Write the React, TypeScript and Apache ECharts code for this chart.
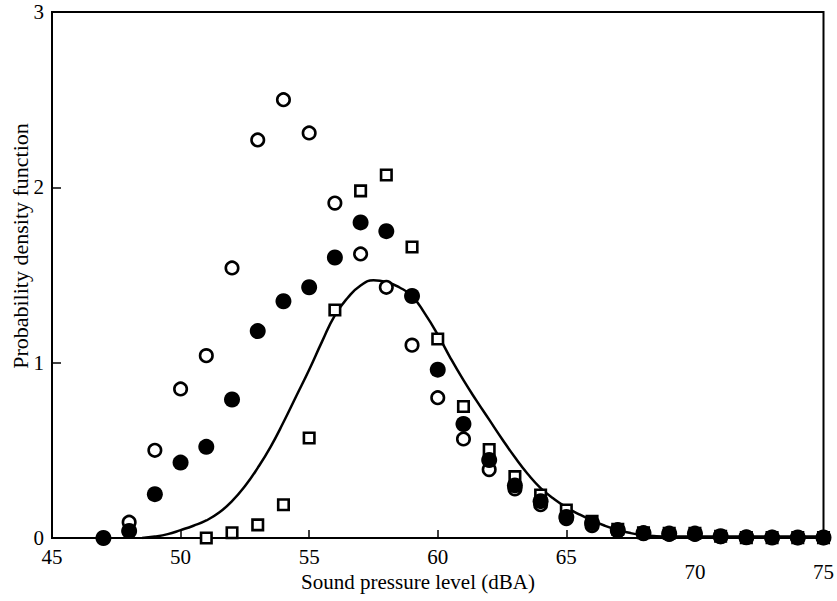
import React, { useEffect, useRef } from "react";
import * as echarts from "echarts";

// Sound pressure level (dBA)
const openX = [48, 49, 50, 51, 52, 53, 54, 55, 56, 57, 58, 59, 60, 61, 62, 63, 64, 65, 66, 67, 68, 69, 70, 71, 72, 73, 74, 75];
const openY = [0.09, 0.5, 0.85, 1.04, 1.54, 2.27, 2.5, 2.31, 1.91, 1.62, 1.43, 1.1, 0.8, 0.565, 0.39, 0.28, 0.19, 0.11, 0.07, 0.04, 0.025, 0.02, 0.02, 0.008, 0.003, 0.003, 0.002, 0.002];

const filledX = [47, 48, 49, 50, 51, 52, 53, 54, 55, 56, 57, 58, 59, 60, 61, 62, 63, 64, 65, 66, 67, 68, 69, 70, 71, 72, 73, 74, 75];
const filledY = [0, 0.04, 0.25, 0.43, 0.52, 0.79, 1.18, 1.35, 1.43, 1.6, 1.8, 1.75, 1.38, 0.96, 0.65, 0.445, 0.3, 0.21, 0.12, 0.085, 0.045, 0.028, 0.025, 0.025, 0.01, 0.004, 0.003, 0.003, 0.003];

const squareX = [51, 52, 53, 54, 55, 56, 57, 58, 59, 60, 61, 62, 63, 64, 65, 66, 67, 68, 69, 70, 71, 72, 73, 74, 75];
const squareY = [0, 0.03, 0.075, 0.19, 0.57, 1.3, 1.98, 2.07, 1.66, 1.135, 0.75, 0.505, 0.35, 0.245, 0.16, 0.095, 0.05, 0.03, 0.027, 0.027, 0.01, 0.002, 0.002, 0.002, 0.002];

const curveX = [48.5, 49, 49.5, 50, 50.5, 51, 51.5, 52, 52.5, 53, 53.5, 54, 54.5, 55, 55.5, 56, 56.5, 57, 57.5, 58, 58.5, 59, 59.5, 60, 60.5, 61, 61.5, 62, 62.5, 63, 63.5, 64, 64.5, 65, 65.5, 66, 66.5, 67, 67.5, 68, 68.5, 69, 70, 71, 72, 73, 74, 75];
const curveY = [0, 0.008, 0.022, 0.045, 0.07, 0.1, 0.145, 0.21, 0.295, 0.4, 0.52, 0.66, 0.81, 0.96, 1.12, 1.27, 1.37, 1.44, 1.47, 1.46, 1.43, 1.38, 1.28, 1.16, 1.025, 0.9, 0.785, 0.675, 0.565, 0.46, 0.365, 0.285, 0.225, 0.175, 0.135, 0.1, 0.07, 0.046, 0.028, 0.016, 0.01, 0.008, 0.008, 0.008, 0.008, 0.008, 0.008, 0.008];

const xTicks = { min: 45, max: 75, interval: 5 };
const yTicks = { min: 0, max: 3, interval: 1 };
const xName = "Sound pressure level (dBA)";
const yName = "Probability density function";

const FONT = "'Liberation Serif', 'Times New Roman', serif";

const zip = (xs: number[], ys: number[]) => xs.map((x, i) => [x, ys[i]]);

export default function App() {
  const ref = useRef<HTMLDivElement>(null);
  useEffect(() => {
    document.body.style.margin = "0";
    const chart = echarts.init(ref.current!, null, { renderer: "svg" });
    chart.setOption({
      animation: false,
      backgroundColor: "#fff",
      grid: {
        left: 52,
        right: 11,
        top: 12,
        bottom: 63,
        show: true,
        borderColor: "#000",
        borderWidth: 2,
        backgroundColor: "transparent",
      },
      xAxis: {
        type: "value",
        min: xTicks.min,
        max: xTicks.max,
        interval: xTicks.interval,
        axisLine: { show: true, lineStyle: { color: "#000", width: 2 } },
        axisTick: { show: true, inside: true, length: 8, lineStyle: { color: "#000", width: 1.5 } },
        splitLine: { show: false },
        axisLabel: {
          color: "#000",
          fontFamily: FONT,
          fontSize: 21,
          margin: 8,
          formatter: (v: number) => (v >= 70 ? `{lo|${v}}` : `${v}`),
          rich: { lo: { padding: [15, 0, 0, 0], fontFamily: FONT, fontSize: 21, color: "#000" } },
        },
      },
      yAxis: {
        type: "value",
        min: yTicks.min,
        max: yTicks.max,
        interval: yTicks.interval,
        axisLine: { show: true, lineStyle: { color: "#000", width: 2 } },
        axisTick: { show: true, inside: true, length: 9, lineStyle: { color: "#000", width: 1.5 } },
        splitLine: { show: false },
        axisLabel: { color: "#000", fontFamily: FONT, fontSize: 21, margin: 8 },
      },
      graphic: [
        {
          type: "text",
          x: 418,
          y: 582,
          style: { text: xName, fontFamily: FONT, fontSize: 21, fill: "#000", textAlign: "center", textVerticalAlign: "middle" },
        },
        {
          type: "text",
          x: 20,
          y: 246,
          rotation: Math.PI / 2,
          style: { text: yName, fontFamily: FONT, fontSize: 22, fill: "#000", textAlign: "center", textVerticalAlign: "middle" },
        },
      ],
      series: [
        {
          type: "line",
          data: zip(curveX, curveY),
          smooth: 0.5,
          showSymbol: false,
          lineStyle: { color: "#000", width: 2.5 },
          z: 1,
        },
        {
          type: "scatter",
          data: zip(openX, openY),
          symbol: "circle",
          symbolSize: 12.5,
          itemStyle: { color: "#fff", borderColor: "#000", borderWidth: 2.6, opacity: 1 },
          z: 2,
        },
        {
          type: "scatter",
          data: zip(squareX, squareY),
          symbol: "rect",
          symbolSize: 10.5,
          itemStyle: { color: "#fff", borderColor: "#000", borderWidth: 2.6, opacity: 1 },
          z: 3,
        },
        {
          type: "scatter",
          data: zip(filledX, filledY),
          symbol: "circle",
          symbolSize: 16,
          itemStyle: { color: "#000", opacity: 1 },
          z: 4,
        },
      ],
    });
    return () => chart.dispose();
  }, []);
  return <div ref={ref} style={{ width: 837, height: 601 }} />;
}
